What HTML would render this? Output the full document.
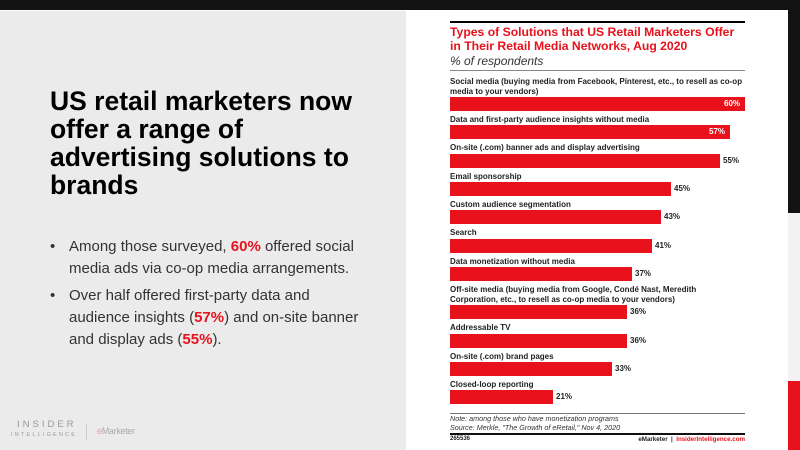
<!DOCTYPE html>
<html><head><meta charset="utf-8"><style>
*{margin:0;padding:0;box-sizing:border-box}
body{width:800px;height:450px;position:relative;overflow:hidden;background:#fff;font-family:"Liberation Sans",sans-serif}
.a{position:absolute}
.lab{position:absolute;left:450px;font-size:8px;font-weight:bold;color:#222;line-height:10px;white-space:nowrap}
.bar{position:absolute;left:450px;height:14px;background:#e8111c}
.v{position:absolute;font-size:8px;font-weight:bold;color:#222;line-height:14px}
.r{color:#e8111c;font-weight:bold}
</style></head><body>
<div class="a" style="left:0;top:0;width:800px;height:10px;background:#121212"></div>
<div class="a" style="left:0;top:11px;width:406px;height:439px;background:#ebebeb"></div>
<div class="a" style="left:788px;top:10px;width:12px;height:203px;background:#121212"></div>
<div class="a" style="left:788px;top:213px;width:12px;height:168px;background:#f2f2f2"></div>
<div class="a" style="left:788px;top:381px;width:12px;height:69px;background:#e8111c"></div>

<div class="a" style="left:50px;top:87px;font-size:26.5px;font-weight:bold;line-height:28px;color:#000;width:350px">US retail marketers now<br>offer a range of<br>advertising solutions to<br>brands</div>

<div class="a" style="left:50px;top:236px;font-size:15px;line-height:22px;color:#333">
<div style="position:relative;padding-left:19px"><span class="a" style="left:0">•</span>Among those surveyed, <span class="r">60%</span> offered social<br>media ads via co-op media arrangements.</div>
<div style="position:relative;padding-left:19px;margin-top:5px"><span class="a" style="left:0">•</span>Over half offered first-party data and<br>audience insights (<span class="r">57%</span>) and on-site banner<br>and display ads (<span class="r">55%</span>).</div>
</div>

<div class="a" style="left:17px;top:420px;font-size:9.5px;letter-spacing:3px;color:#999;line-height:10px">INSIDER</div>
<div class="a" style="left:11px;top:432px;font-size:5.5px;letter-spacing:2.2px;color:#999">INTELLIGENCE</div>
<div class="a" style="left:86px;top:424px;width:1px;height:16px;background:#ccc"></div>
<div class="a" style="left:97px;top:426px;font-size:9px;color:#aaa;letter-spacing:-0.3px"><span style="color:#f0a0a0">e</span>Marketer</div>

<div class="a" style="left:450px;top:21px;width:295px;height:2px;background:#000"></div>
<div class="a" style="left:450px;top:25px;font-size:12.2px;font-weight:bold;color:#e8111c;line-height:14px;white-space:nowrap">Types of Solutions that US Retail Marketers Offer<br>in Their Retail Media Networks, Aug 2020</div>
<div class="a" style="left:450px;top:54px;font-size:12px;font-style:italic;color:#333">% of respondents</div>
<div class="a" style="left:450px;top:70px;width:295px;height:1px;background:#888"></div>

<div class="lab" style="top:77px">Social media (buying media from Facebook, Pinterest, etc., to resell as co-op<br>media to your vendors)</div>
<div class="bar" style="top:97px;width:295px"></div><div class="v" style="top:97px;left:724px;color:#fff">60%</div>
<div class="lab" style="top:115px">Data and first-party audience insights without media</div>
<div class="bar" style="top:125px;width:280px"></div><div class="v" style="top:125px;left:709px;color:#fff">57%</div>
<div class="lab" style="top:143px">On-site (.com) banner ads and display advertising</div>
<div class="bar" style="top:154px;width:270px"></div><div class="v" style="top:154px;left:723px">55%</div>
<div class="lab" style="top:172px">Email sponsorship</div>
<div class="bar" style="top:182px;width:221px"></div><div class="v" style="top:182px;left:674px">45%</div>
<div class="lab" style="top:200px">Custom audience segmentation</div>
<div class="bar" style="top:210px;width:211px"></div><div class="v" style="top:210px;left:664px">43%</div>
<div class="lab" style="top:228px">Search</div>
<div class="bar" style="top:239px;width:202px"></div><div class="v" style="top:239px;left:655px">41%</div>
<div class="lab" style="top:257px">Data monetization without media</div>
<div class="bar" style="top:267px;width:182px"></div><div class="v" style="top:267px;left:635px">37%</div>
<div class="lab" style="top:285px">Off-site media (buying media from Google, Condé Nast, Meredith<br>Corporation, etc., to resell as co-op media to your vendors)</div>
<div class="bar" style="top:305px;width:177px"></div><div class="v" style="top:305px;left:630px">36%</div>
<div class="lab" style="top:323px">Addressable TV</div>
<div class="bar" style="top:334px;width:177px"></div><div class="v" style="top:334px;left:630px">36%</div>
<div class="lab" style="top:352px">On-site (.com) brand pages</div>
<div class="bar" style="top:362px;width:162px"></div><div class="v" style="top:362px;left:615px">33%</div>
<div class="lab" style="top:380px">Closed-loop reporting</div>
<div class="bar" style="top:390px;width:103px"></div><div class="v" style="top:390px;left:556px">21%</div>

<div class="a" style="left:450px;top:413px;width:295px;height:1px;background:#777"></div>
<div class="a" style="left:450px;top:414px;font-size:7.2px;font-style:italic;color:#333;line-height:9px;white-space:nowrap">Note: among those who have monetization programs<br>Source: Merkle, "The Growth of eRetail," Nov 4, 2020</div>
<div class="a" style="left:450px;top:433px;width:295px;height:2px;background:#111"></div>
<div class="a" style="left:450px;top:436px;font-size:6px;font-weight:bold;color:#222">265536</div>
<div class="a" style="left:600px;top:436px;width:145px;text-align:right;font-size:6.2px;font-weight:bold;color:#222;white-space:nowrap">eMarketer &nbsp;| &nbsp;<span style="color:#e8111c">InsiderIntelligence.com</span></div>
</body></html>
